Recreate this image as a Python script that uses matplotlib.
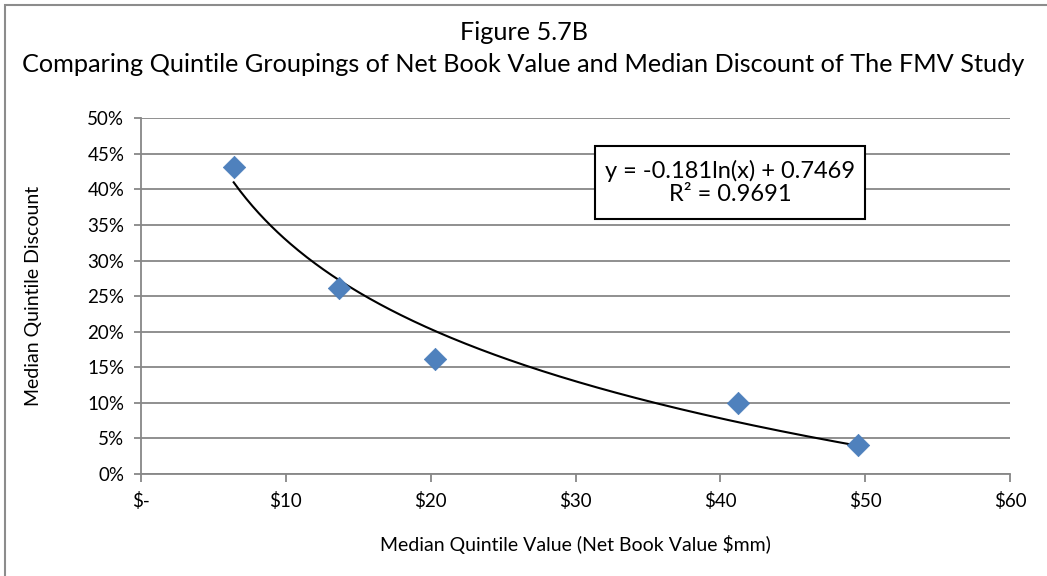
import numpy as np
import matplotlib
matplotlib.use("Agg")
import matplotlib.pyplot as plt
from matplotlib.patches import Rectangle
from matplotlib.ticker import FuncFormatter

# Data
nbv_values = [6.4, 13.7, 20.3, 41.2, 49.5]          # Median quintile value ($mm)
median_discount = [0.431, 0.262, 0.162, 0.100, 0.041]
x_ticks = [0, 10, 20, 30, 40, 50, 60]
x_tick_labels = ["$-", "$10", "$20", "$30", "$40", "$50", "$60"]
y_ticks = [0.0, 0.05, 0.10, 0.15, 0.20, 0.25, 0.30, 0.35, 0.40, 0.45, 0.50]
title_line1 = "Figure 5.7B"
title_line2 = "Comparing Quintile Groupings of Net Book Value and Median Discount of The FMV Study"
eq_text = "y = -0.181ln(x) + 0.7469\nR\u00b2 = 0.9691"
x_label = "Median Quintile Value (Net Book Value $mm)"
y_label = "Median Quintile Discount"

plt.rcParams['font.family'] = ['Lato', 'DejaVu Sans']

W, H = 1047, 576
fig = plt.figure(figsize=(W / 100, H / 100), dpi=100)

# outer chart border (top/left visible)
fig.patches.append(Rectangle((5 / W, -0.05), 1.2, (H - 5) / H + 0.05,
                             transform=fig.transFigure, fill=False,
                             edgecolor="#8c8c8c", linewidth=1.5))

ax = fig.add_axes([141 / W, (H - 474) / H, (1010 - 141) / W, (474 - 118.3) / H])
grid_c = "#878787"

# log trendline fitted from the data
coef = np.polyfit(np.log(nbv_values), median_discount, 1)
xs = np.linspace(min(nbv_values), max(nbv_values), 300)
ax.plot(xs, coef[0] * np.log(xs) + coef[1], color="black", lw=1.5, zorder=3)

ax.scatter(nbv_values, median_discount, marker="D", s=130, color="#4f81bd",
           edgecolors="#4a7ebb", linewidths=0.5, zorder=4, clip_on=False)

ax.set_xlim(0, 60)
ax.set_ylim(0, 0.5)
ax.set_xticks(x_ticks)
ax.set_xticklabels(x_tick_labels)
ax.set_yticks(y_ticks)
ax.yaxis.set_major_formatter(FuncFormatter(lambda v, p: f"{v*100:.0f}%"))
ax.yaxis.grid(True, color=grid_c, lw=1.3)
ax.set_axisbelow(True)
for s in ["top", "right"]:
    ax.spines[s].set_visible(False)
for s in ["left", "bottom"]:
    ax.spines[s].set_color(grid_c)
    ax.spines[s].set_linewidth(1.3)
ax.tick_params(axis="both", direction="out", length=5, width=1.3, color=grid_c,
               labelsize=13.5, labelcolor="black")
ax.tick_params(axis="x", pad=7, length=6)
ax.tick_params(axis="y", pad=7)

ax.set_xlabel(x_label, fontsize=14)
ax.set_ylabel(y_label, fontsize=14)
ax.xaxis.set_label_coords(0.5, -(545 - 474) / (474 - 118.3), transform=ax.transAxes)
ax.yaxis.label.set_va("center")
ax.xaxis.label.set_va("center")
ax.yaxis.set_label_coords(-(141 - 33) / (1010 - 141), 0.5, transform=ax.transAxes)

fig.text(0.5, 1 - 33 / H, title_line1, ha="center", va="center", fontsize=18.2)
fig.text(0.5, 1 - 64 / H, title_line2, ha="center", va="center", fontsize=18.2)

# equation box
bx0, by0, bx1, by1 = 595, 146, 865, 219
fig.patches.append(Rectangle((bx0 / W, 1 - by1 / H), (bx1 - bx0) / W, (by1 - by0) / H,
                             transform=fig.transFigure, facecolor="white",
                             edgecolor="black", linewidth=1.5, zorder=5))
fig.text((bx0 + bx1) / 2 / W, 1 - (by0 + by1) / 2 / H, eq_text, ha="center", va="center",
         fontsize=17, linespacing=1.15, zorder=6)

fig.savefig("out.png", dpi=100)
